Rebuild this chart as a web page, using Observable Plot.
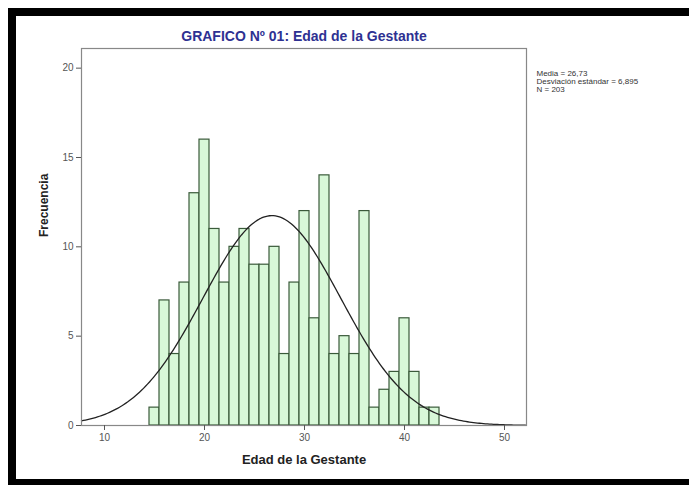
<!DOCTYPE html>
<html>
<head>
<meta charset="utf-8">
<script src="https://cdn.jsdelivr.net/npm/d3@7"></script>
<script src="https://cdn.jsdelivr.net/npm/@observablehq/plot@0.6"></script>
<style>
  html, body { margin: 0; padding: 0; background: #fff; }
  #wrap { position: relative; width: 689px; height: 485px; overflow: hidden; background: #fff; }
  .bar { position: absolute; background: #000; }
  #chart { position: absolute; left: 0; top: 0; }
</style>
</head>
<body>
<div id="wrap">
  <div id="chart"></div>
  <div class="bar" style="left:8px; top:8px; width:681px; height:8px;"></div>
  <div class="bar" style="left:8px; top:8px; width:8px; height:477px;"></div>
  <div class="bar" style="left:8px; top:479px; width:681px; height:6px;"></div>
</div>
<script>
// Data
const ages = [15,16,17,18,19,20,21,22,23,24,25,26,27,28,29,30,31,32,33,34,35,36,37,38,39,40,41,42,43];
const counts = [1,7,4,8,13,16,11,8,10,11,9,9,10,4,8,12,6,14,4,5,4,12,1,2,3,6,3,1,1];
const xTicks = [10,20,30,40,50];
const yTicks = [0,5,10,15,20];
const mean = 26.73;
const sd = 6.895;
const n = 203;
const statLines = ["Media = 26,73", "Desviación estándar = 6,895", "N = 203"];
const title = "GRAFICO Nº 01: Edad de la Gestante";

const bins = ages.map((a, i) => ({x1: a - 0.5, x2: a + 0.5, count: counts[i]}));

// fitted normal curve from the stated mean, sd and N (bin width 1)
const xDomain = [7.7, 52.2];
const curve = d3.range(xDomain[0], xDomain[1] + 0.001, 0.2).map(x => ({
  x, y: n * Math.exp(-0.5 * ((x - mean) / sd) ** 2) / (sd * Math.sqrt(2 * Math.PI))
}));

const statMarks = statLines.map((t, i) =>
  Plot.text([t], {frameAnchor: "top-right", dx: 10, dy: 22 + i * 8, textAnchor: "start", text: d => d, fontSize: 8, fill: "#333"})
);

const chart = Plot.plot({
  width: 689,
  height: 485,
  marginLeft: 81,
  marginRight: 163,
  marginTop: 48,
  marginBottom: 60,
  style: {fontFamily: "'Liberation Sans', Arial, sans-serif", fontSize: "10px", color: "#444", background: "transparent"},
  x: {domain: xDomain, ticks: xTicks, label: null},
  y: {domain: [0, 21.1], ticks: yTicks, label: null},
  marks: [
    Plot.rect(bins, {x1: "x1", x2: "x2", y1: 0, y2: "count", fill: "#d8f8d8", stroke: "#3a5a3a", strokeWidth: 1.2}),
    Plot.line(curve, {x: "x", y: "y", stroke: "#222", strokeWidth: 1.3, curve: "linear"}),
    Plot.frame({stroke: "#888", strokeWidth: 1.2}),
    Plot.axisX({ticks: xTicks, tickSize: 5, tickPadding: 3, stroke: "#555", fill: "#555", fontSize: 10, label: null}),
    Plot.axisY({ticks: yTicks, tickSize: 5, tickPadding: 3, stroke: "#555", fill: "#555", fontSize: 10, label: null}),
    Plot.text([title], {frameAnchor: "top", dy: -17, text: d => d, fontSize: 14, fontWeight: "bold", fill: "#2e3192"}),
    Plot.text(["Edad de la Gestante"], {frameAnchor: "bottom", dy: 38, text: d => d, fontSize: 13, fontWeight: "bold", fill: "#222"}),
    Plot.text(["Frecuencia"], {frameAnchor: "left", dx: -37, rotate: -90, text: d => d, fontSize: 12, fontWeight: "bold", fill: "#222"}),
    ...statMarks
  ]
});
document.getElementById("chart").appendChild(chart);
</script>
</body>
</html>
